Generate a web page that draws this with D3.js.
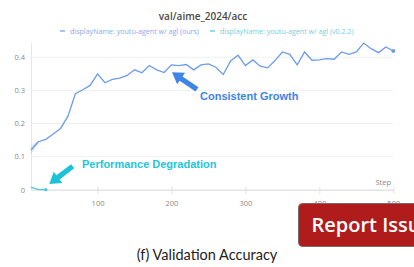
<!DOCTYPE html>
<html lang="en">
<head>
<meta charset="UTF-8">
<title>val accuracy</title>
<script src="https://d3js.org/d3.v7.min.js"></script>
<style>
  body { margin: 0; background: #fff; }
</style>
</head>
<body>
<div id="fig"></div>
<script>
// data
let stepsOurs = d3.range(10, 501, 10)
let accOurs = [0.12, 0.145, 0.152, 0.168, 0.185, 0.222, 0.29, 0.302, 0.315, 0.35,
    0.323, 0.333, 0.337, 0.345, 0.362, 0.353, 0.375, 0.362, 0.354, 0.377,
    0.375, 0.378, 0.362, 0.377, 0.38, 0.37, 0.348, 0.389, 0.406, 0.375,
    0.392, 0.373, 0.368, 0.39, 0.416, 0.409, 0.377, 0.416, 0.391, 0.392,
    0.396, 0.394, 0.416, 0.409, 0.416, 0.443, 0.426, 0.414, 0.431, 0.419]
let stepsOld = [10, 20, 30]
let accOld = [0.007, 0.001, 0]
let yTicks = [0, 0.1, 0.2, 0.3, 0.4]
let xTicks = [100, 200, 300, 400, 500]
let legendNames = ["displayName: youtu-agent w/ agl (ours)", "displayName: youtu-agent w/ agl (v0.2.2)"]

let W = 414, H = 267
let svg = d3.select("#fig").append("svg").attr("width", W).attr("height", H)
    .style("font-family", "'Open Sans', sans-serif")

let x = d3.scaleLinear().domain([10, 500]).range([31, 393.3])
let y = d3.scaleLinear().domain([0, 0.444]).range([189.7, 42.7])

let blue = "#6b9cec", cyan = "#4cc6da"

// title + legend
svg.append("text").attr("x", 203).attr("y", 20).attr("text-anchor", "middle")
    .attr("font-size", 10).attr("font-weight", 600).attr("fill", "#4a4a4a")
    .text("val/aime_2024/acc")
let legX = [60, 210], legC = [blue, cyan]
legendNames.forEach(function (n, i) {
    svg.append("line").attr("x1", legX[i]).attr("x2", legX[i] + 5).attr("y1", 31).attr("y2", 31)
        .attr("stroke", legC[i]).attr("stroke-width", 1.2)
    svg.append("text").attr("x", legX[i] + 10).attr("y", 33.5).attr("font-size", 7.1)
        .attr("fill", i == 0 ? "#86aaf0" : "#72d0e0").text(n)
})

// grid
svg.append("g").selectAll("line").data(yTicks.slice(1)).join("line")
    .attr("x1", 31).attr("x2", 393.3).attr("y1", d => y(d)).attr("y2", d => y(d))
    .attr("stroke", "#f0f0f0").attr("stroke-width", 1)

// axes
let yAxis = svg.append("g").attr("transform", "translate(31,0)")
    .call(d3.axisLeft(y).tickValues(yTicks).tickSize(0).tickPadding(6).tickFormat(d => d == 0 ? "0" : d3.format(".1f")(d)))
yAxis.select(".domain").attr("stroke", "#e6e6e6")
yAxis.selectAll("text").attr("font-size", 7.5).attr("fill", "#8a8a8a").attr("font-family", "'Open Sans', sans-serif")

let xAxis = svg.append("g").attr("transform", "translate(0,189.7)")
    .call(d3.axisBottom(x).tickValues(xTicks).tickSizeInner(4).tickSizeOuter(0).tickPadding(7))
xAxis.select(".domain").attr("stroke", "#e3e3e3").attr("stroke-width", 1.5)
xAxis.selectAll(".tick line").attr("stroke", "#e0e0e0").attr("y1", -3)
xAxis.selectAll("text").attr("font-size", 7.5).attr("fill", "#8a8a8a").attr("font-family", "'Open Sans', sans-serif")

svg.append("text").attr("x", 391).attr("y", 185).attr("text-anchor", "end")
    .attr("font-size", 7.5).attr("fill", "#8a8a8a").text("Step")

// lines
let line = d3.line().x(d => x(d[0])).y(d => y(d[1]))
let ours = stepsOurs.map((s, i) => [s, accOurs[i]])
let old = stepsOld.map((s, i) => [s, accOld[i]])

svg.append("path").datum([[10, 0.108, 0.132], [20, 0.14, 0.15]])
    .attr("d", d3.area().x(d => x(d[0])).y0(d => y(d[1])).y1(d => y(d[2])))
    .attr("fill", blue).attr("opacity", 0.25)
svg.append("path").datum(ours).attr("d", line).attr("fill", "none")
    .attr("stroke", blue).attr("stroke-width", 1.3)
svg.append("circle").attr("cx", x(500)).attr("cy", y(accOurs[accOurs.length - 1])).attr("r", 2).attr("fill", blue)
svg.append("path").datum(old).attr("d", line).attr("fill", "none")
    .attr("stroke", cyan).attr("stroke-width", 1.2)
svg.append("circle").attr("cx", x(30)).attr("cy", y(0)).attr("r", 1.6).attr("fill", cyan)

// annotations
function arrow(tail, tip, color) {
    let x0 = x(tail[0]), y0 = y(tail[1]), x1 = x(tip[0]), y1 = y(tip[1])
    let dx = x1 - x0, dy = y1 - y0, L = Math.hypot(dx, dy)
    let ux = dx / L, uy = dy / L, px = -uy, py = ux
    let hl = 11, hw = 7, sw = 2.6
    let bx = x1 - ux * hl, by = y1 - uy * hl
    let pts = [[x0 + px * sw, y0 + py * sw], [bx + px * sw, by + py * sw], [bx + px * hw, by + py * hw],
        [x1, y1], [bx - px * hw, by - py * hw], [bx - px * sw, by - py * sw], [x0 - px * sw, y0 - py * sw]]
    svg.append("polygon").attr("points", pts.map(p => p.join(",")).join(" ")).attr("fill", color)
}
arrow([234.5, 0.303], [200.7, 0.3545], "#3f85e8")
arrow([66.4, 0.071], [34.7, 0.017], "#1cc3d8")

svg.append("text").attr("x", 200).attr("y", 99.5).attr("font-size", 11).attr("font-weight", "bold")
    .attr("font-family", "'Liberation Sans', Arial, sans-serif").attr("fill", "#3f83e6").text("Consistent Growth")
svg.append("text").attr("x", 82).attr("y", 167.5).attr("font-size", 11).attr("font-weight", "bold")
    .attr("font-family", "'Liberation Sans', Arial, sans-serif").attr("fill", "#22c6dc").text("Performance Degradation")

// report button + caption
svg.append("rect").attr("x", 298.5).attr("y", 203.5).attr("width", 130).attr("height", 43)
    .attr("rx", 4).attr("fill", "#b01c1c").attr("stroke", "#7a6a6a").attr("stroke-width", 1)
svg.append("text").attr("x", 311.5).attr("y", 231.5).attr("font-size", 20).attr("fill", "#fff")
    .attr("font-family", "'Open Sans', sans-serif").attr("font-weight", 600).text("Report Issue")

svg.append("text").attr("x", 207).attr("y", 260).attr("text-anchor", "middle").attr("font-size", 14.5)
    .attr("fill", "#222").attr("font-family", "Lato, sans-serif").text("(f)  Validation Accuracy")
</script>
</body>
</html>
